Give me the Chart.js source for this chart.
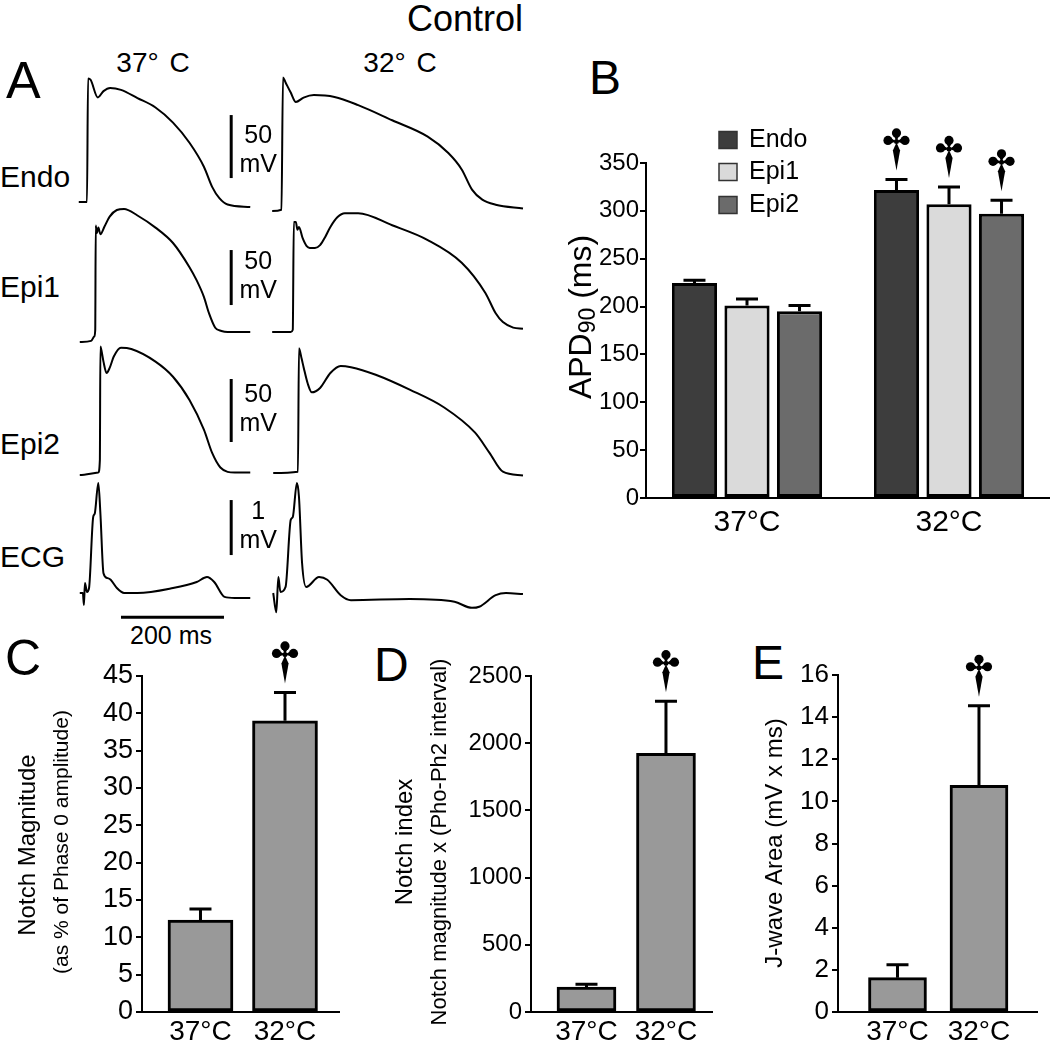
<!DOCTYPE html>
<html>
<head>
<meta charset="utf-8">
<script src="https://cdn.jsdelivr.net/npm/chart.js@4.4.0/dist/chart.umd.min.js"></script>
<style>
body { margin: 0; background: #fff; width: 1050px; height: 1043px; position: relative; overflow: hidden; font-family: 'Liberation Sans', Arial, sans-serif; }
.t { position: absolute; line-height: 1; white-space: nowrap; color: #000; }
.c { transform: translateX(-50%); }
canvas { position: absolute; }
</style>
</head>
<body>
<div class="t c" style="left:465px;top:1px;font-size:36px">Control</div>
<div class="t" style="left:6px;top:54px;font-size:52px">A</div>
<div class="t c" style="left:153px;top:49px;font-size:28px;word-spacing:3px">37° C</div>
<div class="t c" style="left:400px;top:49px;font-size:28px;word-spacing:3px">32° C</div>
<div class="t" style="left:0px;top:162px;font-size:30px">Endo</div>
<div class="t" style="left:0px;top:272px;font-size:30px">Epi1</div>
<div class="t" style="left:0px;top:429px;font-size:30px">Epi2</div>
<div class="t" style="left:0px;top:542px;font-size:30px">ECG</div>
<div class="t c" style="left:171px;top:623px;font-size:25px">200 ms</div>
<div class="t" style="left:589px;top:54px;font-size:48px">B</div>
<div class="t" style="left:5px;top:633px;font-size:50px">C</div>
<div class="t" style="left:374px;top:641px;font-size:48px">D</div>
<div class="t" style="left:752px;top:639px;font-size:48px">E</div>
<script>
var FONT = "'Liberation Sans', Arial, sans-serif";

// Panel A traces: time (ms) and potential (mV); ECG in mV
var endo37T = [17, 33, 35, 40, 54, 65, 78, 99, 131, 166, 200, 232, 260, 276, 290, 306, 350];
var endo37V = [-85, -85, 13, 12, -2, 3, 5.5, 4, -2.5, -10, -22, -38, -57, -73, -82, -87, -89];
var endo32T = [12, 30, 33, 38, 48, 58, 73, 93, 133, 179, 245, 314, 354, 380, 400, 420, 446, 499];
var endo32V = [-85, -84, 21, 17, 9, 1.5, 5, 7, 5.5, -1, -13, -26, -39, -52, -68, -76, -80, -83];
var epi137T = [19, 41, 47, 49, 50, 52, 55, 59, 67, 77, 91, 105, 131, 166, 200, 232, 246, 260, 270, 282, 294, 306, 350];
var epi137V = [-85, -84, -80, -74, 21, 14, 19, 13, 20, 29, 35, 36, 30, 19, 5, -17, -29, -44, -59, -72, -75, -76, -76];
var epi132T = [12, 48, 52, 54, 58, 61, 64, 71, 79, 85, 95, 105, 115, 125, 139, 153, 179, 245, 314, 380, 426, 446, 460, 480, 499];
var epi132V = [-85, -85, -83, 15, 15, 8, 10.5, 0.5, -7, -8.6, -8.6, -6, 1.4, 10.5, 19.5, 23, 23, 12, -1.4, -22, -49.5, -68, -76, -81, -82];
var epi237T = [19, 55, 58, 59, 61, 65, 71, 77, 85, 99, 119, 166, 200, 232, 260, 276, 292, 320, 350];
var epi237V = [-85, -83, -73, 17, 14, 5, -4, 0, 9, 16, 15, 5, -7, -25.5, -49, -67.5, -79, -83, -83];
var epi232T = [14, 62, 64, 69, 73, 81, 89, 105, 125, 145, 165, 213, 280, 346, 406, 434, 460, 499];
var epi232V = [-85, -84, 14, 6, -1, -14, -21, -17.5, -5.6, 0, -1, -7, -19, -33, -53, -69, -84, -87];
var ecg37T = [19, 25, 27, 29, 33, 37, 45, 48, 55, 59, 65, 73, 79, 91, 105, 131, 200, 246, 266, 280, 300, 320, 350];
var ecg37V = [0, 0, -0.22, 0.18, 0.02, 0.09, 1.38, 1.44, 2.0, 1.45, 0.36, 0.27, 0.24, 0.09, 0, 0, 0.09, 0.2, 0.29, 0.2, -0.07, -0.09, -0.09];
var ecg32T = [14, 20, 24, 28, 38, 48, 52, 60, 64, 70, 78, 103, 119, 145, 165, 279, 366, 400, 414, 446, 466, 499];
var ecg32V = [0, -0.35, 0.29, 0.02, 0.11, 1.33, 1.38, 2.0, 1.75, 0.55, 0.11, 0.29, 0.24, -0.04, -0.13, -0.11, -0.16, -0.27, -0.25, -0.04, 0, -0.02];

// Panel B: APD90
var tempLabels = ['37°C', '32°C'];
var seriesNames = ['Endo', 'Epi1', 'Epi2'];
var endoAPD = [224.6, 321.8];
var endoSEM = [3, 11];
var epi1APD = [201, 307];
var epi1SEM = [7, 18];
var epi2APD = [195, 297];
var epi2SEM = [6, 14];
var apdSig = [false, true];
var apdTicks = [0, 50, 100, 150, 200, 250, 300, 350];

// Panel C: notch magnitude
var notchMag = [12.3, 39.0];
var notchMagSEM = [1.5, 3.8];
var notchMagTicks = [0, 5, 10, 15, 20, 25, 30, 35, 40, 45];

// Panel D: notch index
var notchIndex = [186, 1925];
var notchIndexSEM = [21, 388];
var notchIndexTicks = [0, 500, 1000, 1500, 2000, 2500];

// Panel E: J-wave area
var jwaveArea = [1.63, 10.76];
var jwaveAreaSEM = [0.61, 3.78];
var jwaveTicks = [0, 2, 4, 6, 8, 10, 12, 14, 16];

var sigFlags = [false, true];

var MS_PX = 0.515; // pixels per ms in panel A

function makeCanvas(left, top, width, height) {
    var canvas = document.createElement('canvas');
    canvas.width = width;
    canvas.height = height;
    canvas.style.left = left + 'px';
    canvas.style.top = top + 'px';
    document.body.appendChild(canvas);
    return canvas.getContext('2d');
}

// vertical calibration bar (and optional time bar) drawn on the trace scales
function scaleBarPlugin(bar) {
    return {
        id: 'scaleBar',
        afterDraw: function(chart) {
            var ctx = chart.ctx, xs = chart.scales.x, ys = chart.scales.y;
            var x = xs.getPixelForValue(bar.t);
            var y0 = ys.getPixelForValue(bar.from), y1 = ys.getPixelForValue(bar.to);
            var mid = (y0 + y1) / 2 + (bar.dy || 0);
            ctx.save();
            ctx.strokeStyle = '#000';
            ctx.lineWidth = 3;
            ctx.beginPath();
            ctx.moveTo(x, y0);
            ctx.lineTo(x, y1);
            ctx.stroke();
            ctx.fillStyle = '#000';
            ctx.font = '25px ' + FONT;
            ctx.textAlign = 'center';
            ctx.textBaseline = 'middle';
            ctx.fillText(bar.label, x + 27, mid - 15);
            ctx.fillText('mV', x + 27, mid + 14);
            if (bar.time) {
                var ty = ys.getPixelForValue(bar.time.at);
                ctx.beginPath();
                ctx.moveTo(xs.getPixelForValue(bar.time.from), ty);
                ctx.lineTo(xs.getPixelForValue(bar.time.to), ty);
                ctx.stroke();
            }
            ctx.restore();
        }
    };
}

function tracePanel(left, width, baseY, pxPerUnit, rest, t, v, bar) {
    var above = 150, below = 50;
    var ctx = makeCanvas(left, baseY - above, width, above + below);
    new Chart(ctx, {
        type: 'line',
        data: {
            datasets: [{
                data: t.map(function(x, i) { return {x: x, y: v[i]}; }),
                borderColor: '#000',
                borderWidth: 2,
                borderJoinStyle: 'round',
                pointRadius: 0,
                cubicInterpolationMode: 'monotone',
                fill: false,
                clip: false
            }]
        },
        options: {
            responsive: false,
            animation: false,
            events: [],
            layout: {padding: 0},
            scales: {
                x: {type: 'linear', display: false, min: 0, max: width / MS_PX},
                y: {type: 'linear', display: false, min: rest - below / pxPerUnit, max: rest + above / pxPerUnit}
            },
            plugins: {legend: {display: false}, tooltip: {enabled: false}}
        },
        plugins: bar ? [scaleBarPlugin(bar)] : []
    });
}

// Panel A
tracePanel(70, 215, 202, 1.26, -85, endo37T, endo37V, {t: 313, from: -66, to: -16, label: '50', dy: 5});
tracePanel(266, 269, 211, 1.26, -85, endo32T, endo32V);
tracePanel(70, 215, 342, 1.1, -85, epi137T, epi137V, {t: 313, from: -51.4, to: -1.4, label: '50'});
tracePanel(266, 269, 332, 1.1, -85, epi132T, epi132V);
tracePanel(70, 215, 475, 1.26, -85, epi237T, epi237V, {t: 313, from: -58.8, to: -8.8, label: '50'});
tracePanel(266, 269, 473, 1.26, -85, epi232T, epi232V);
tracePanel(70, 215, 593, 55, 0, ecg37T, ecg37V, {t: 313, from: 0.69, to: 1.69, label: '1', time: {from: 99, to: 299, at: -0.44}});
tracePanel(266, 269, 593, 55, 0, ecg32T, ecg32V);

// the significance mark: three teardrop lobes over a tapering spike
function drawDagger(ctx, cx, tipY) {
    var c = tipY - 29;
    ctx.save();
    ctx.fillStyle = '#000';
    ctx.beginPath();
    ctx.moveTo(cx, tipY);
    ctx.lineTo(cx - 3.6, tipY - 20);
    ctx.lineTo(cx, c + 1);
    ctx.lineTo(cx + 3.6, tipY - 20);
    ctx.closePath();
    ctx.fill();
    [[0, -8.5], [-8.5, -1], [8.5, -1]].forEach(function(p) {
        var lx = cx + p[0], ly = c + p[1];
        ctx.beginPath();
        ctx.arc(lx, ly, 4.6, 0, Math.PI * 2);
        ctx.fill();
        var dx = cx - lx, dy = c - ly, d = Math.sqrt(dx * dx + dy * dy);
        var nx = -dy / d * 3.8, ny = dx / d * 3.8;
        ctx.beginPath();
        ctx.moveTo(lx + nx, ly + ny);
        ctx.lineTo(cx, c);
        ctx.lineTo(lx - nx, ly - ny);
        ctx.closePath();
        ctx.fill();
    });
    ctx.beginPath();
    ctx.arc(cx, c, 2.5, 0, Math.PI * 2);
    ctx.fill();
    ctx.restore();
}

// error bars, daggers, rotated titles and custom legend for bar panels
function extrasPlugin(cfg) {
    return {
        id: 'extras',
        afterDatasetsDraw: function(chart) {
            var ctx = chart.ctx, ys = chart.scales.y;
            cfg.series.forEach(function(s, i) {
                var meta = chart.getDatasetMeta(i);
                meta.data.forEach(function(bar, j) {
                    var top = ys.getPixelForValue(s.mean[j] + s.sem[j]);
                    ctx.save();
                    ctx.strokeStyle = '#000';
                    ctx.lineWidth = 3;
                    ctx.beginPath();
                    ctx.moveTo(bar.x, bar.y);
                    ctx.lineTo(bar.x, top);
                    ctx.moveTo(bar.x - 11, top);
                    ctx.lineTo(bar.x + 11, top);
                    ctx.stroke();
                    ctx.restore();
                    if (s.sig[j]) drawDagger(ctx, bar.x, top - 9);
                });
            });
        },
        afterDraw: function(chart) {
            var ctx = chart.ctx;
            cfg.texts.forEach(function(it) {
                ctx.save();
                ctx.translate(it.x, it.y);
                ctx.rotate(-Math.PI / 2);
                ctx.fillStyle = '#000';
                ctx.textBaseline = 'middle';
                ctx.textAlign = 'left';
                var parts = it.parts || [{text: it.text, size: it.size}];
                var widths = parts.map(function(p) {
                    ctx.font = p.size + 'px ' + FONT;
                    return ctx.measureText(p.text).width;
                });
                var x = -widths.reduce(function(a, b) { return a + b; }, 0) / 2;
                parts.forEach(function(p, k) {
                    ctx.font = p.size + 'px ' + FONT;
                    ctx.fillText(p.text, x, p.dy || 0);
                    x += widths[k];
                });
                ctx.restore();
            });
            if (cfg.legend) {
                var L = cfg.legend;
                ctx.save();
                cfg.series.forEach(function(s, i) {
                    var yc = L.rows[i];
                    ctx.fillStyle = s.color;
                    ctx.fillRect(L.x, yc - 8.5, 18, 17);
                    ctx.strokeStyle = '#333';
                    ctx.lineWidth = 1.5;
                    ctx.strokeRect(L.x, yc - 8.5, 18, 17);
                    ctx.fillStyle = '#000';
                    ctx.font = '25px ' + FONT;
                    ctx.textBaseline = 'middle';
                    ctx.textAlign = 'left';
                    ctx.fillText(s.name, L.textX, yc);
                });
                ctx.restore();
            }
        }
    };
}

function barPanel(cfg) {
    var ctx = makeCanvas(cfg.left, cfg.top, cfg.width, cfg.height);
    var xTicks = {color: '#000', font: {family: FONT, size: cfg.xFont}, padding: cfg.xPad, maxRotation: 0, autoSkip: false};
    var xScale;
    if (cfg.grouped) {
        xScale = {type: 'category', ticks: xTicks};
    } else {
        xTicks.callback = function(v) { return cfg.labels[v - 1]; };
        xScale = {
            type: 'linear', min: cfg.xMin, max: cfg.xMax, offset: false, ticks: xTicks,
            afterBuildTicks: function(s) { s.ticks = cfg.labels.map(function(l, i) { return {value: i + 1}; }); }
        };
    }
    xScale.grid = {display: false, drawTicks: false, offset: !!cfg.grouped};
    xScale.border = {display: true, color: '#000', width: 2};
    xScale.afterFit = function(s) { s.height = cfg.xHeight; };

    var datasets = cfg.series.map(function(s) {
        return {
            label: s.name,
            data: cfg.grouped ? s.mean : s.mean.map(function(m, i) { return {x: i + 1, y: m}; }),
            backgroundColor: s.color,
            borderColor: '#000',
            borderWidth: 3,
            borderSkipped: false,
            barThickness: cfg.barThickness,
            categoryPercentage: cfg.catPct || 0.8,
            barPercentage: cfg.barPct || 0.9
        };
    });

    new Chart(ctx, {
        type: 'bar',
        data: {labels: cfg.grouped ? cfg.labels : undefined, datasets: datasets},
        options: {
            responsive: false,
            animation: false,
            events: [],
            layout: {padding: {top: cfg.padTop, right: cfg.padRight, left: 0, bottom: 0}},
            scales: {
                x: xScale,
                y: {
                    min: 0,
                    max: cfg.yTicks[cfg.yTicks.length - 1],
                    afterBuildTicks: function(s) { s.ticks = cfg.yTicks.map(function(v) { return {value: v}; }); },
                    ticks: {color: '#000', font: {family: FONT, size: cfg.yFont}, padding: cfg.tickPad, callback: function(v) { return String(v); }},
                    grid: {drawOnChartArea: false, drawTicks: true, tickLength: 6, color: '#000', lineWidth: 2},
                    border: {display: true, color: '#000', width: 2},
                    afterFit: function(s) { s.width = cfg.yWidth; }
                }
            },
            plugins: {legend: {display: false}, tooltip: {enabled: false}}
        },
        plugins: [extrasPlugin(cfg)]
    });
}

// Panel B
barPanel({
    left: 540, top: 100, width: 510, height: 445,
    padTop: 63, padRight: 0, yWidth: 106, xHeight: 47,
    grouped: true, labels: tempLabels, yTicks: apdTicks,
    yFont: 24, xFont: 30, xPad: 7, tickPad: 1,
    catPct: 0.78, barPct: 0.86,
    series: [
        {name: seriesNames[0], mean: endoAPD, sem: endoSEM, sig: apdSig, color: '#3d3d3d'},
        {name: seriesNames[1], mean: epi1APD, sem: epi1SEM, sig: apdSig, color: '#dadada'},
        {name: seriesNames[2], mean: epi2APD, sem: epi2SEM, sig: apdSig, color: '#6b6b6b'}
    ],
    texts: [{x: 42, y: 217, parts: [{text: 'APD', size: 32}, {text: '90', size: 23, dy: 7}, {text: ' (ms)', size: 32}]}],
    legend: {x: 179, textX: 209, rows: [40, 72, 105]}
});

// Panel C
barPanel({
    left: 0, top: 600, width: 345, height: 443,
    padTop: 76, padRight: 6, yWidth: 142, xHeight: 31,
    labels: tempLabels, xMin: 0.308, xMax: 2.639, barThickness: 65,
    yTicks: notchMagTicks, yFont: 27, xFont: 28, xPad: 3, tickPad: 3,
    series: [{name: 'Notch', mean: notchMag, sem: notchMagSEM, sig: sigFlags, color: '#999999'}],
    texts: [
        {text: 'Notch Magnitude', size: 24, x: 28, y: 245},
        {text: '(as % of Phase 0 amplitude)', size: 21, x: 62, y: 242}
    ]
});

// Panel D
barPanel({
    left: 345, top: 600, width: 370, height: 443,
    padTop: 76, padRight: 3, yWidth: 186, xHeight: 31,
    labels: tempLabels, xMin: 0.302, xMax: 2.579, barThickness: 59,
    yTicks: notchIndexTicks, yFont: 24, xFont: 28, xPad: 3, tickPad: 3,
    series: [{name: 'Index', mean: notchIndex, sem: notchIndexSEM, sig: sigFlags, color: '#999999'}],
    texts: [
        {text: 'Notch index', size: 24, x: 60, y: 242},
        {text: 'Notch magnitude x (Pho-Ph2 interval)', size: 22, x: 95, y: 242}
    ]
});

// Panel E
barPanel({
    left: 715, top: 600, width: 335, height: 443,
    padTop: 75, padRight: 13, yWidth: 123, xHeight: 31,
    labels: tempLabels, xMin: 0.270, xMax: 2.712, barThickness: 58,
    yTicks: jwaveTicks, yFont: 26, xFont: 28, xPad: 3, tickPad: 3,
    series: [{name: 'Area', mean: jwaveArea, sem: jwaveAreaSEM, sig: sigFlags, color: '#999999'}],
    texts: [{text: 'J-wave Area (mV x ms)', size: 24, x: 60, y: 243}]
});
</script>
</body>
</html>
